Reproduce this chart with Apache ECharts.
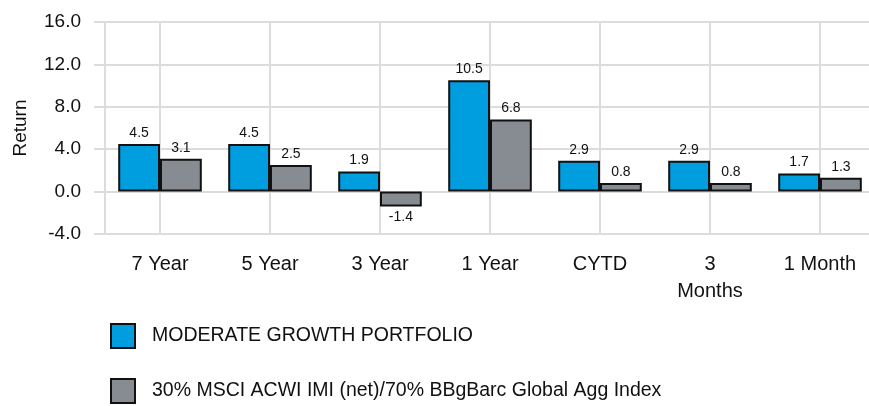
<!DOCTYPE html>
<html lang="en">
<head>
    <meta charset="UTF-8">
    <title>Returns</title>
    <style>
        html, body { margin: 0; padding: 0; background: #fff; }
        #main { width: 869px; height: 406px; }
    </style>
</head>
<body>
    <div id="main"></div>
    <script src="https://cdn.jsdelivr.net/npm/echarts@6/dist/echarts.min.js"></script>
    <script type="text/javascript">
        var categories = ['7 Year', '5 Year', '3 Year', '1 Year', 'CYTD', '3\nMonths', '1 Month'];
        var portfolio = [4.5, 4.5, 1.9, 10.5, 2.9, 2.9, 1.7];
        var benchmark = [3.1, 2.5, -1.4, 6.8, 0.8, 0.8, 1.3];
        var seriesNames = ['MODERATE GROWTH PORTFOLIO', '30% MSCI ACWI IMI (net)/70% BBgBarc Global Agg Index'];

        var font = '"Liberation Sans", Arial, sans-serif';
        var gridColor = '#dcdcdc';

        // negative bars get the label underneath
        function toData(arr) {
            return arr.map(function (v) {
                if (v < 0) {
                    return { value: v, label: { position: 'bottom' } };
                }
                return v;
            });
        }

        function legendAt(name, top) {
            return {
                left: 105,
                top: top,
                itemWidth: 24,
                itemHeight: 24,
                icon: 'rect',
                textStyle: {
                    fontFamily: font,
                    fontSize: 19.5,
                    color: '#111',
                    padding: [0, 0, 0, 12]
                },
                data: [name]
            };
        }

        var myChart = echarts.init(document.getElementById('main'));

        var option = {
            animation: false,
            color: ['#009ddf', '#878b92'],
            grid: {
                left: 105,
                right: -6,
                top: 22,
                bottom: 172,
                outerBoundsMode: 'none'
            },
            legend: [
                legendAt(seriesNames[0], 318),
                legendAt(seriesNames[1], 373)
            ],
            xAxis: {
                type: 'category',
                data: categories,
                axisLine: { lineStyle: { color: gridColor, width: 2 } },
                axisTick: {
                    show: true,
                    alignWithLabel: true,
                    length: 12,
                    lineStyle: { color: gridColor, width: 2 }
                },
                splitLine: {
                    show: true,
                    alignWithLabel: true,
                    lineStyle: { color: gridColor, width: 2 }
                },
                axisLabel: {
                    fontFamily: font,
                    fontSize: 20,
                    color: '#111',
                    margin: 17,
                    lineHeight: 27
                }
            },
            yAxis: {
                type: 'value',
                min: -4,
                max: 16,
                interval: 4,
                name: 'Return',
                nameLocation: 'middle',
                nameGap: 75,
                nameRotate: 90,
                nameTextStyle: {
                    fontFamily: font,
                    fontSize: 19,
                    color: '#111'
                },
                axisLine: { show: true, lineStyle: { color: gridColor, width: 2 } },
                axisTick: { show: true, length: 11, lineStyle: { color: gridColor, width: 2 } },
                splitLine: { lineStyle: { color: gridColor, width: 2 } },
                axisLabel: {
                    fontFamily: font,
                    fontSize: 19,
                    color: '#111',
                    margin: 24,
                    formatter: function (v) { return v.toFixed(1); }
                }
            },
            series: [{
                name: seriesNames[0],
                type: 'bar',
                barGap: 0,
                barCategoryGap: '24%',
                data: toData(portfolio),
                itemStyle: { borderColor: '#111', borderWidth: 2 },
                label: {
                    show: true,
                    position: 'top',
                    distance: 4,
                    fontFamily: font,
                    fontSize: 14,
                    color: '#111',
                    formatter: function (p) { return p.value.toFixed(1); }
                }
            }, {
                name: seriesNames[1],
                type: 'bar',
                barGap: 0,
                barCategoryGap: '24%',
                data: toData(benchmark),
                itemStyle: { borderColor: '#111', borderWidth: 2 },
                label: {
                    show: true,
                    position: 'top',
                    distance: 4,
                    fontFamily: font,
                    fontSize: 14,
                    color: '#111',
                    formatter: function (p) { return p.value.toFixed(1); }
                }
            }]
        };

        myChart.setOption(option);
    </script>
</body>
</html>
